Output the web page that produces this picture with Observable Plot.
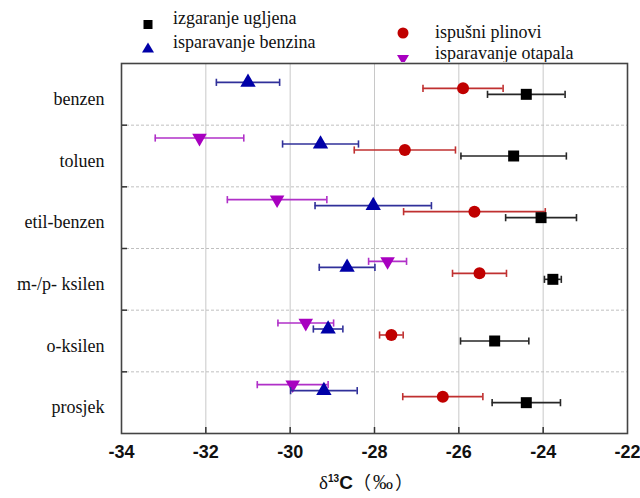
<!DOCTYPE html>
<html><head><meta charset="utf-8">
<script src="https://cdn.jsdelivr.net/npm/d3@7"></script>
<script src="https://cdn.jsdelivr.net/npm/@observablehq/plot@0.6"></script>
<style>
body{margin:0;background:#fff;}
#wrap{position:relative;width:640px;height:498px;overflow:hidden;background:#fff;}
#legend{position:absolute;left:0;top:0;}
#chart{position:absolute;left:0;top:60px;}
#xlabel{position:absolute;top:467px;left:113px;width:506px;text-align:center;font-size:18px;line-height:28px;color:#111;white-space:nowrap;}
</style></head>
<body>
<div id="wrap">
  <svg id="legend" width="640" height="62" font-family="'Liberation Serif', serif" font-size="18" fill="#111">
    <rect x="143.5" y="20" width="9" height="9" fill="#000"></rect>
    <text x="173" y="24">izgaranje ugljena</text>
    <path d="M148,42.5 L154,52.5 L142,52.5 Z" fill="#0000a8"></path>
    <text x="173" y="47.5">isparavanje benzina</text>
    <circle cx="403" cy="33" r="5.5" fill="#c00000"></circle>
    <text x="435" y="38">ispušni plinovi</text>
    <path d="M397,55 L409,55 L403,65 Z" fill="#a800c0"></path>
    <text x="435" y="58.5">isparavanje otapala</text>
  </svg>
  <div id="chart"></div>
  <div id="xlabel"><span style="font-family:'Liberation Serif',serif;font-size:19px">δ</span><sup style="font:bold 10px 'Liberation Sans',sans-serif">13</sup><span style="font:bold 19px 'Liberation Sans',sans-serif">C</span><span style="font-family:'Noto Sans CJK SC',sans-serif;font-size:18px;margin-right:2px">（</span><span style="font-family:'Liberation Serif',serif;font-size:20px">‰</span><span style="font-family:'Noto Sans CJK SC',sans-serif;font-size:18px;margin-left:2px">）</span></div>
</div>
<script>
const categories = ["benzen", "toluen", "etil-benzen", "m-/p- ksilen", "o-ksilen", "prosjek"];
const xTicks = [-34, -32, -30, -28, -26, -24, -22];

// izgaranje ugljena (coal combustion)
const coalMean = [-24.4, -24.7, -24.05, -23.77, -25.15, -24.4];
const coalErr  = [0.92, 1.25, 0.84, 0.2, 0.81, 0.81];
// ispušni plinovi (exhaust)
const exhaustMean = [-25.9, -27.28, -25.63, -25.51, -27.6, -26.38];
const exhaustErr  = [0.95, 1.2, 1.68, 0.64, 0.28, 0.95];
// isparavanje benzina (gasoline evaporation)
const gasolineMean = [-31.0, -29.28, -28.03, -28.65, -29.1, -29.2];
const gasolineErr  = [0.75, 0.9, 1.38, 0.66, 0.35, 0.79];
// isparavanje otapala (solvent evaporation)
const solventMean = [null, -32.15, -30.31, -27.69, -29.63, -29.94];
const solventErr  = [null, 1.05, 1.18, 0.45, 0.66, 0.84];

const series = [
  {name: "isparavanje otapala", mean: solventMean, err: solventErr, color: "#a800c0", bar: "#b030c8", symbol: "triangle", r: 5.4, rotate: 180, dy: -18},
  {name: "isparavanje benzina", mean: gasolineMean, err: gasolineErr, color: "#0000a8", bar: "#30309a", symbol: "triangle", r: 5.7, rotate: 0, dy: -12},
  {name: "ispušni plinovi", mean: exhaustMean, err: exhaustErr, color: "#c00000", bar: "#c03030", symbol: "circle", r: 6, rotate: 0, dy: -6},
  {name: "izgaranje ugljena", mean: coalMean, err: coalErr, color: "#000000", bar: "#262626", symbol: "square", r: 6.2, rotate: 0, dy: 0}
];

const cap = {draw(ctx, size) { const h = Math.sqrt(size / Math.PI); ctx.moveTo(0, -h); ctx.lineTo(0, h); }};

const W = 640, H = 410, mL = 121, mR = 13, mT = 3, mB = 37;
const innerW = W - mL - mR, innerH = H - mT - mB;
const boundaries = d3.range(0.5, categories.length - 0.5, 1);
const innerTicks = xTicks.slice(1, -1);

const marks = [
  Plot.gridX(innerTicks, {stroke: "#c8c8c8", strokeOpacity: 1, strokeWidth: 1}),
  Plot.gridY(boundaries, {stroke: "#c0c0c0", strokeOpacity: 1, strokeWidth: 1, strokeDasharray: "3,2"}),
  Plot.ruleY(boundaries, {stroke: "#333", strokeWidth: 1.5, insetRight: innerW - 6}),
  Plot.ruleX(innerTicks, {stroke: "#333", strokeWidth: 1.5, insetTop: innerH - 6}),
  Plot.frame({stroke: "#444", strokeWidth: 1.6}),
  Plot.axisX(xTicks, {tickSize: 0, tickPadding: 12, fontSize: 18, fontWeight: "bold", fontFamily: "'Liberation Sans', Arial, sans-serif", tickFormat: d => String(d), label: null, fill: "#111"}),
  Plot.axisY(d3.range(categories.length), {tickSize: 0, tickPadding: 17, tickFormat: i => categories[i], fontSize: 18, fontFamily: "'Liberation Serif', serif", dy: 5, label: null, fill: "#111"})
];

for (const s of series) {
  const data = categories.map((c, i) => ({i, cat: c, mean: s.mean[i], lo: s.mean[i] == null ? null : s.mean[i] - s.err[i], hi: s.mean[i] == null ? null : s.mean[i] + s.err[i]})).filter(d => d.mean != null);
  marks.push(
    Plot.ruleY(data, {y: "i", x1: "lo", x2: "hi", stroke: s.bar, strokeWidth: 1.6, dy: s.dy}),
    Plot.dot(data, {x: "lo", y: "i", symbol: cap, r: 3.6, stroke: s.bar, strokeWidth: 1.6, dy: s.dy}),
    Plot.dot(data, {x: "hi", y: "i", symbol: cap, r: 3.6, stroke: s.bar, strokeWidth: 1.6, dy: s.dy}),
    Plot.dot(data, {x: "mean", y: "i", symbol: s.symbol, r: s.r, fill: s.color, stroke: "none", rotate: s.rotate, dy: s.dy})
  );
}

const chart = Plot.plot({
  width: W, height: H,
  marginLeft: mL, marginRight: mR, marginTop: mT, marginBottom: mB,
  x: {domain: [-34, -22]},
  y: {domain: [-0.5, categories.length - 0.5], reverse: true},
  style: {background: "transparent", overflow: "visible"},
  marks
});
document.getElementById("chart").appendChild(chart);
</script>
</body></html>
